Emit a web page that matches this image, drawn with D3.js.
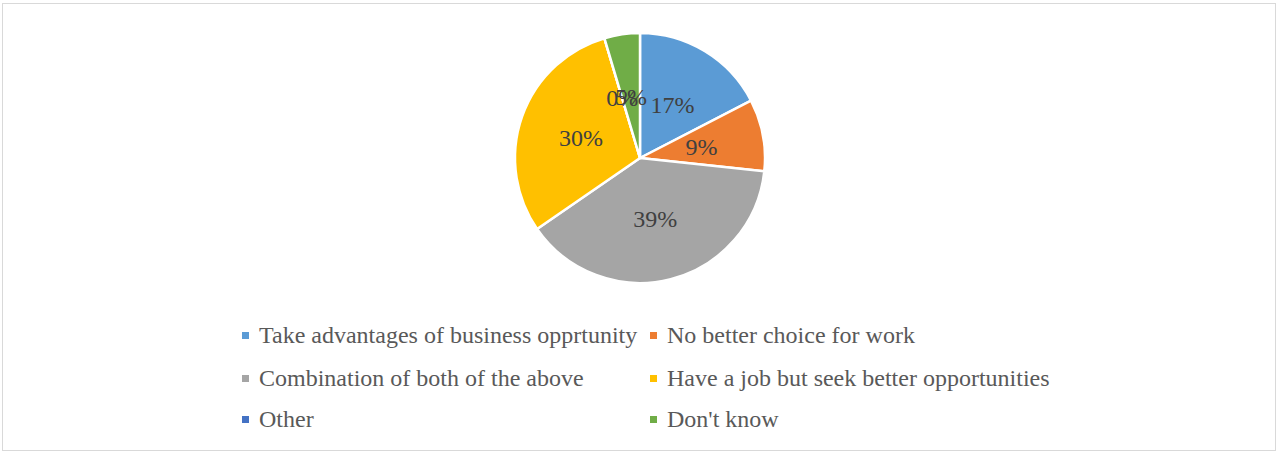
<!DOCTYPE html>
<html>
<head>
<meta charset="utf-8">
<script src="https://cdn.jsdelivr.net/npm/d3@7"></script>
<style>
  html, body { margin: 0; padding: 0; background: #fff; }
  svg { display: block; }
</style>
</head>
<body>
<svg id="chart" width="1278" height="453"></svg>
<script>
// Reasons for starting a business (share of respondents, %)
const categories = [
  "Take advantages of business opprtunity",
  "No better choice for work",
  "Combination of both of the above",
  "Have a job but seek better opportunities",
  "Other",
  "Don't know"
];
const shares = [17.4, 9.3, 38.7, 30.0, 0, 4.6];
const colors = ["#5b9bd5", "#ed7d31", "#a5a5a5", "#ffc000", "#4472c4", "#70ad47"];

const data = categories.map((c, i) => ({ name: c, value: shares[i], color: colors[i] }));
const total = d3.sum(shares);
const pct = d3.format(".0%");

const svg = d3.select("#chart");
const W = 1278, H = 453;
const serif = "'Liberation Serif', 'Times New Roman', serif";

// chart frame
svg.append("rect")
  .attr("x", 2.5).attr("y", 3.5)
  .attr("width", W - 5).attr("height", H - 6)
  .attr("fill", "#fff")
  .attr("stroke", "#d9d9d9")
  .attr("stroke-width", 1);

const cx = 640, cy = 158, r = 125;
const pie = d3.pie().value(d => d.value).sort(null);
const arcs = pie(data);
const arc = d3.arc().innerRadius(0).outerRadius(r);
const labelArc = d3.arc().innerRadius(r * 0.5).outerRadius(r * 0.5);

const g = svg.append("g").attr("transform", `translate(${cx},${cy})`);

g.selectAll("path.slice")
  .data(arcs)
  .join("path")
  .attr("class", "slice")
  .attr("d", arc)
  .attr("fill", d => d.data.color)
  .attr("stroke", "#fff")
  .attr("stroke-width", 2.5)
  .attr("stroke-linejoin", "round");

g.selectAll("text.lbl")
  .data(arcs)
  .join("text")
  .attr("class", "lbl")
  .attr("transform", d => {
    const [x, y] = labelArc.centroid(d);
    return `translate(${x},${y})`;
  })
  .attr("text-anchor", "middle")
  .attr("dy", "0.35em")
  .attr("font-family", serif)
  .attr("font-size", 24)
  .attr("fill", "#404040")
  .text(d => pct(d.data.value / total));

// legend: two columns, three rows
const colX = [242, 650];
const rowY = [343, 386, 427];
const legend = svg.append("g");
data.forEach((d, i) => {
  const col = i % 2, row = Math.floor(i / 2);
  const item = legend.append("g").attr("transform", `translate(${colX[col]},${rowY[row]})`);
  item.append("rect")
    .attr("x", 0).attr("y", -11)
    .attr("width", 7).attr("height", 7)
    .attr("fill", d.color);
  item.append("text")
    .attr("x", 17).attr("y", 0)
    .attr("font-family", serif)
    .attr("font-size", 24)
    .attr("fill", "#595959")
    .text(d.name);
});
</script>
</body>
</html>
